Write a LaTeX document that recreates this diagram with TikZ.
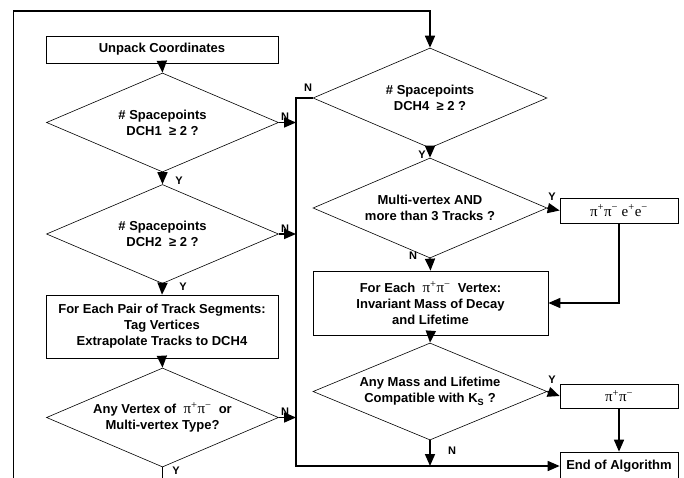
\documentclass[tikz,border=0pt]{standalone}
\usepackage{fontspec}
\setmainfont{Liberation Sans}
\newfontfamily\serifgr{Liberation Serif}
\newcommand\pipimark{{\serifgr\mdseries\fontsize{15}{16}\selectfont π\textsuperscript{+}π\textsuperscript{−}}}
\newcommand\eemark{{\serifgr\mdseries\fontsize{15}{16}\selectfont e\textsuperscript{+}e\textsuperscript{−}}}
\usetikzlibrary{shapes.geometric,arrows.meta}
\begin{document}
\begin{tikzpicture}[x=1pt,y=-1pt,
  font=\fontsize{13}{16}\selectfont\bfseries,
  box/.style={draw,line width=0.7pt,inner sep=0pt,align=center},
  dia/.style={draw,line width=0.6pt,diamond,aspect=2.3,inner sep=0pt,align=center,minimum width=232pt,minimum height=99pt},
  conn/.style={line width=1.6pt,-{Triangle[length=12pt,width=10pt]}},
  plainline/.style={line width=1.6pt},
  lbl/.style={font=\fontsize{11}{13}\selectfont\bfseries,inner sep=0pt}]
\useasboundingbox (0,0) rectangle (684,477);
\clip (0,0) rectangle (684,477);

% left column
\node[box,minimum width=232pt,minimum height=27pt] (unpack) at (162,49.5) {Unpack Coordinates};
\node[dia] (d1) at (162.5,122.5) {\# Spacepoints\\DCH1~~≥ 2 ?};
\node[dia,minimum height=99pt] (d2) at (162.5,234) {\# Spacepoints\\DCH2~~≥ 2 ?};
\node[box,minimum width=232pt,minimum height=63pt] (pair) at (162,326.5)
  {For Each Pair of Track Segments:\\Tag Vertices\\Extrapolate Tracks to DCH4};
\node[dia] (d3) at (162.5,417.5) {Any Vertex of ~\pipimark~ or\\Multi-vertex Type?};

% right column
\node[dia,minimum width=234pt,minimum height=100pt] (d4) at (430,98) {\# Spacepoints\\DCH4~~≥ 2 ?};
\node[dia,minimum width=234pt,minimum height=100pt] (d5) at (430,208) {Multi-vertex AND\\more than 3 Tracks ?};
\node[box,minimum width=235pt,minimum height=64pt] (vbox) at (430.5,303)
  {For Each ~\pipimark~ Vertex:\\Invariant Mass of Decay\\and Lifetime};
\node[dia,minimum width=234pt,minimum height=97pt] (d6) at (430,391.5)
  {Any Mass and Lifetime\\Compatible with K\textsubscript{S} ?};

\node[box,minimum width=118pt,minimum height=25pt] (ppee) at (619,210.5) {\pipimark\ \eemark};
\node[box,minimum width=118pt,minimum height=24pt] (pp) at (619,396) {\pipimark};
\node[box,minimum width=118pt,minimum height=28pt] (endbox) at (619,466) {End of Algorithm};

% helper coordinates
\coordinate (busT) at (296,98);
\coordinate (busB) at (296,466);
\coordinate (loopS) at (13.5,490);
\coordinate (loopC) at (13.5,11);
\coordinate (d3out) at (162.5,490);

% connectors left column
\draw[conn] (unpack.south) -- (d1.north);
\draw[conn] (d1.south) -- (d2.north);
\draw[conn] (d2.south) -- (pair.north);
\draw[conn] (pair.south) -- (d3.north);
\draw[conn] (d1.east) -- (d1.east -| busT);
\draw[conn] (d2.east) -- (d2.east -| busT);
\draw[conn] (d3.east) -- (d3.east -| busT);
\draw[plainline] (d3.south) -- (d3out);

% bus and loop
\draw[conn] (d4.west) -- (busT) -- (busB) -- (endbox.west);
\draw[conn] (loopS) -- (loopC) -- (loopC -| d4.north) -- (d4.north);

% connectors right column
\draw[conn] (d4.south) -- (d5.north);
\draw[conn] (d5.east) -- (ppee.west);
\draw[conn] (d5.south) -- (vbox.north);
\draw[conn] (ppee.south) |- (vbox.east);
\draw[conn] (vbox.south) -- (d6.north);
\draw[conn] (d6.east) -- (pp.west);
\draw[conn] (pp.south) -- (endbox.north);
\draw[conn] (d6.south) -- (d6.south |- busB);

% labels
\node[lbl] (n1) at (285,117) {N};
\node[lbl] (ntop) at (308,88) {N};
\node[lbl] (y1) at (179,181) {Y};
\node[lbl] (n2) at (285,229) {N};
\node[lbl] (y2) at (183,287) {Y};
\node[lbl] (n3) at (285,412) {N};
\node[lbl] (y3) at (176,471) {Y};
\node[lbl] (y4) at (422,155) {Y};
\node[lbl] (y5) at (552,197) {Y};
\node[lbl] (n5) at (413,256) {N};
\node[lbl] (y6) at (552,380) {Y};
\node[lbl] (n6) at (452,451) {N};
\end{tikzpicture}
\end{document}
